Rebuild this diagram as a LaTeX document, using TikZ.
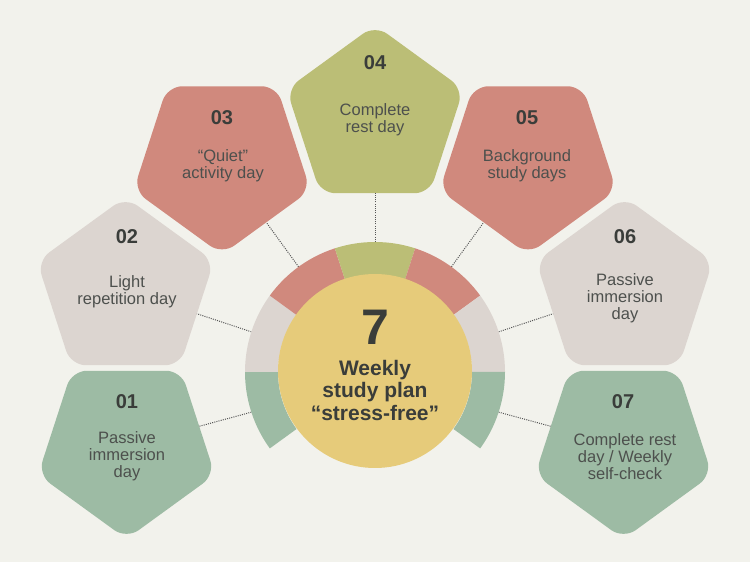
\documentclass[tikz,border=0pt]{standalone}
\usepackage{fontspec}
\setmainfont{Liberation Sans}
\usetikzlibrary{shapes.geometric,calc}
\definecolor{bg}{HTML}{F2F2EC}
\definecolor{cgreen}{HTML}{9DBBA4}
\definecolor{cbeige}{HTML}{DCD5D0}
\definecolor{csalmon}{HTML}{D0897D}
\definecolor{colive}{HTML}{BBBE76}
\definecolor{cyellow}{HTML}{E6CB7A}
\definecolor{ctxt}{HTML}{3A3D3A}
\definecolor{cbody}{HTML}{4D504D}
\definecolor{cdot}{HTML}{555555}
\begin{document}
\begin{tikzpicture}[x=1pt,y=1pt,
  penta/.style={regular polygon, regular polygon sides=5, minimum size=186pt, inner sep=0pt, outer sep=0pt, rounded corners=15pt, draw=none},
  pup/.style={penta},
  pdown/.style={penta, shape border rotate=180},
  num/.style={font=\fontsize{20}{24}\selectfont\bfseries, text=ctxt},
  body/.style={font=\fontsize{16.5}{16.8}\selectfont, text=cbody, align=center},
  conn/.style={draw=cdot, line width=1pt, dash pattern=on 1pt off 1.2pt}]
\fill[bg] (0,0) rectangle (750,562);
\useasboundingbox (0,0) rectangle (750,562);

\coordinate (rc) at (375,190);
% pentagons
\node[pdown, fill=cgreen]  (p1) at (126.5,116) {};
\node[pup,   fill=cbeige]  (p2) at (125.5,272) {};
\node[pdown, fill=csalmon] (p3) at (222,400.5) {};
\node[pup,   fill=colive]  (p4) at (375,444) {};
\node[pdown, fill=csalmon] (p5) at (528,400.5) {};
\node[pup,   fill=cbeige]  (p6) at (624.5,272) {};
\node[pdown, fill=cgreen]  (p7) at (623.5,116) {};

% ring points
\coordinate (k1) at ($(rc)+(198:130)$);
\coordinate (k2) at ($(rc)+(162:130)$);
\coordinate (k3) at ($(rc)+(126:130)$);
\coordinate (k4) at ($(rc)+(90:130)$);
\coordinate (k5) at ($(rc)+(54:130)$);
\coordinate (k6) at ($(rc)+(18:130)$);
\coordinate (k7) at ($(rc)+(-18:130)$);

% connectors
\foreach \i in {1,...,7} \draw[conn] (k\i) -- (p\i);

% ring
\foreach \a/\c in {180/cgreen,144/cbeige,108/csalmon,72/colive,36/csalmon,0/cbeige,-36/cgreen}{
  \pgfmathsetmacro{\b}{\a+36}
  \fill[\c] ($(rc)+(\a:130)$) arc[start angle=\a, end angle=\b, radius=130]
     -- ($(rc)+(\b:97)$) arc[start angle=\b, end angle=\a, radius=97] -- cycle;
}
% centre circle
\node[circle, fill=cyellow, minimum size=194pt, inner sep=0pt] (hub) at (375,191) {};
\node[font=\fontsize{50}{50}\selectfont\bfseries, text=ctxt] (seven) at (375,235) {7};
\node[font=\fontsize{21}{22.5}\selectfont\bfseries, text=ctxt, align=center] (title) at (375,172) {Weekly\\study plan\\“stress-free”};

% texts
\node[num] (n1) at (127,160) {01};
\node[body] (t1) at (127,105.5) {Passive\\immersion\\day};
\node[num] (n2) at (127,325) {02};
\node[body] (t2) at (127,270.5) {Light\\repetition day};
\node[num] (n3) at (222,444) {03};
\node[body] (t3) at (223,396) {“Quiet”\\activity day};
\node[num] (n4) at (375,499) {04};
\node[body] (t4) at (375,442.5) {Complete\\rest day};
\node[num] (n5) at (527,444) {05};
\node[body] (t5) at (527,396) {Background\\study days};
\node[num] (n6) at (625,325) {06};
\node[body] (t6) at (625,264) {Passive\\immersion\\day};
\node[num] (n7) at (623,160) {07};
\node[body] (t7) at (625,105.5) {Complete rest\\day / Weekly\\self-check};
\end{tikzpicture}
\end{document}
